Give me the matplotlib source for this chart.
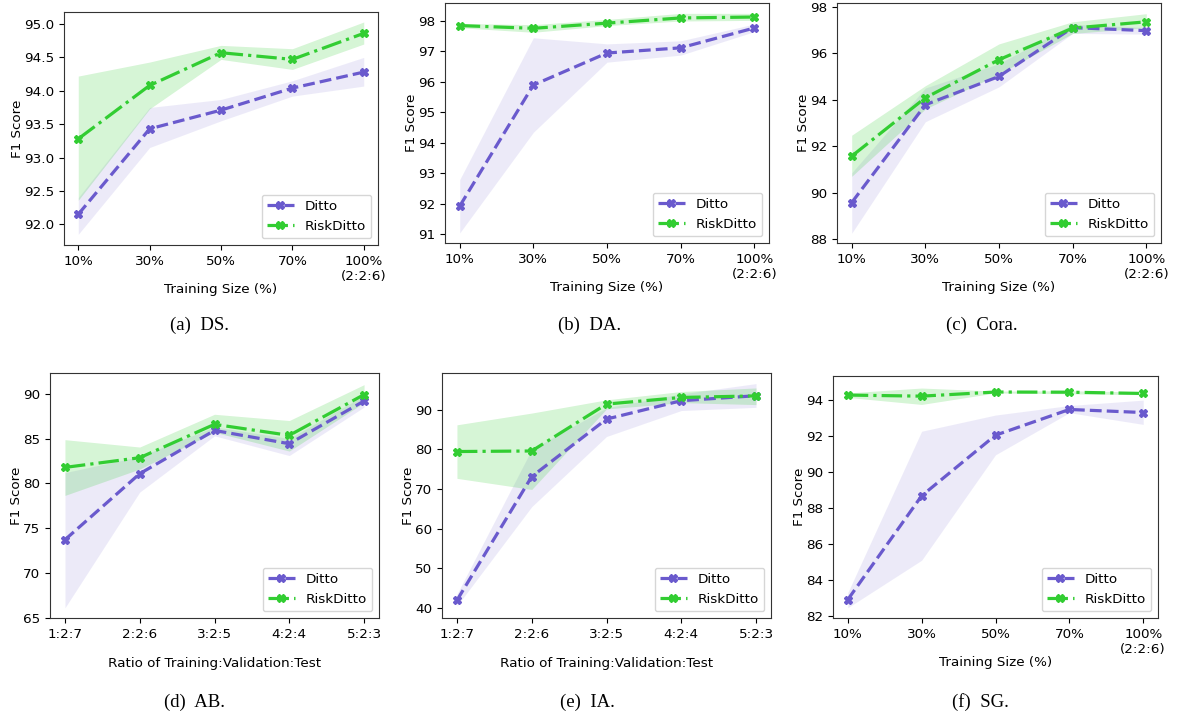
import numpy as np
from matplotlib import pyplot as plt
from matplotlib import rcParams

rcParams['font.family'] = 'DejaVu Sans'
rcParams['font.size'] = 9.7
rcParams['axes.edgecolor'] = '#333333'

W, H = 1177, 718

size_ticks = ['10%', '30%', '50%', '70%', '100%\n(2:2:6)']
ratio_ticks = ['1:2:7', '2:2:6', '3:2:5', '4:2:4', '5:2:3']

# DS
ds_ditto = [92.15, 93.43, 93.71, 94.04, 94.28]
ds_ditto_lo = [91.85, 93.15, 93.55, 93.92, 94.07]
ds_ditto_hi = [92.40, 93.75, 93.87, 94.15, 94.50]
ds_risk = [93.28, 94.08, 94.57, 94.47, 94.86]
ds_risk_lo = [92.36, 93.73, 94.47, 94.32, 94.70]
ds_risk_hi = [94.22, 94.43, 94.68, 94.63, 95.03]

# DA
da_ditto = [91.93, 95.90, 96.95, 97.12, 97.77]
da_ditto_lo = [91.05, 94.35, 96.65, 96.88, 97.65]
da_ditto_hi = [92.80, 97.45, 97.25, 97.35, 97.90]
da_risk = [97.85, 97.76, 97.93, 98.10, 98.13]
da_risk_lo = [97.78, 97.63, 97.85, 98.00, 98.02]
da_risk_hi = [97.92, 97.88, 98.05, 98.25, 98.25]

# Cora
cora_ditto = [89.57, 93.78, 95.00, 97.10, 96.97]
cora_ditto_lo = [88.25, 93.05, 94.55, 96.85, 96.82]
cora_ditto_hi = [90.85, 94.50, 95.55, 97.25, 97.10]
cora_risk = [91.57, 94.08, 95.72, 97.08, 97.35]
cora_risk_lo = [90.70, 93.60, 95.10, 96.85, 97.10]
cora_risk_hi = [92.47, 94.60, 96.40, 97.35, 97.70]

# AB
ab_ditto = [73.72, 81.08, 85.90, 84.42, 89.18]
ab_ditto_lo = [66.13, 79.03, 85.30, 83.10, 88.50]
ab_ditto_hi = [81.20, 83.00, 86.30, 85.00, 89.80]
ab_risk = [81.78, 82.86, 86.58, 85.35, 89.89]
ab_risk_lo = [78.66, 81.60, 85.70, 83.60, 89.00]
ab_risk_hi = [84.87, 84.05, 87.70, 87.00, 91.00]

# IA
ia_ditto = [41.94, 73.14, 87.64, 92.28, 93.54]
ia_ditto_lo = [40.50, 65.55, 83.25, 89.80, 90.60]
ia_ditto_hi = [43.50, 80.00, 90.50, 94.00, 96.60]
ia_risk = [79.46, 79.60, 91.43, 93.10, 93.50]
ia_risk_lo = [72.70, 69.90, 90.20, 91.80, 91.30]
ia_risk_hi = [86.20, 89.16, 92.50, 94.60, 95.50]

# SG
sg_ditto = [82.91, 88.68, 92.05, 93.48, 93.31]
sg_ditto_lo = [82.46, 85.10, 90.96, 93.30, 92.65]
sg_ditto_hi = [83.30, 92.27, 93.17, 93.70, 94.00]
sg_risk = [94.28, 94.22, 94.45, 94.44, 94.37]
sg_risk_lo = [94.15, 93.76, 94.40, 94.35, 94.30]
sg_risk_hi = [94.40, 94.67, 94.50, 94.52, 94.45]

c_ditto = '#6a5acd'
c_risk = '#32cd32'

panels = [
    # box in px (left, right, top, bottom), data, ticks, xlabel, yticks, ylim, fmt, caption, caption pos
    ((64, 378, 12, 245), (ds_ditto, ds_ditto_lo, ds_ditto_hi, ds_risk, ds_risk_lo, ds_risk_hi),
     size_ticks, 'Training Size (%)', np.arange(92.0, 95.01, 0.5), (91.69, 95.18), '{:.1f}', '(a)  DS.', (199, 325)),
    ((445, 769, 3, 243), (da_ditto, da_ditto_lo, da_ditto_hi, da_risk, da_risk_lo, da_risk_hi),
     size_ticks, 'Training Size (%)', np.arange(91, 98.1, 1), (90.72, 98.59), '{:.0f}', '(b)  DA.', (590, 325)),
    ((837, 1161, 3, 243), (cora_ditto, cora_ditto_lo, cora_ditto_hi, cora_risk, cora_risk_lo, cora_risk_hi),
     size_ticks, 'Training Size (%)', np.arange(88, 98.1, 2), (87.83, 98.16), '{:.0f}', '(c)  Cora.', (982, 325)),
    ((50, 379, 373, 618), (ab_ditto, ab_ditto_lo, ab_ditto_hi, ab_risk, ab_risk_lo, ab_risk_hi),
     ratio_ticks, 'Ratio of Training:Validation:Test', np.arange(65, 90.1, 5), (65, 92.3), '{:.0f}', '(d)  AB.', (195, 702)),
    ((442, 771, 373, 618), (ia_ditto, ia_ditto_lo, ia_ditto_hi, ia_risk, ia_risk_lo, ia_risk_hi),
     ratio_ticks, 'Ratio of Training:Validation:Test', np.arange(40, 90.1, 10), (37.47, 99.27), '{:.0f}', '(e)  IA.', (587, 702)),
    ((833, 1158, 376, 618), (sg_ditto, sg_ditto_lo, sg_ditto_hi, sg_risk, sg_risk_lo, sg_risk_hi),
     size_ticks, 'Training Size (%)', np.arange(82, 94.1, 2), (81.89, 95.34), '{:.0f}', '(f)  SG.', (980, 702)),
]

fig = plt.figure(figsize=(W / 100, H / 100), dpi=100)

for box, series, xticks, xlabel, yticks, ylim, fmt, caption, cpos in panels:
    l, r, t, b = box
    ax = fig.add_axes([l / W, 1 - b / H, (r - l) / W, (b - t) / H])
    d, dlo, dhi, rk, rlo, rhi = series
    x = np.arange(len(xticks))
    ax.fill_between(x, dlo, dhi, color=c_ditto, alpha=0.12, linewidth=0)
    ax.fill_between(x, rlo, rhi, color=c_risk, alpha=0.2, linewidth=0)
    ax.plot(x, d, '--', color=c_ditto, lw=2.3, marker='X', ms=6, label='Ditto')
    ax.plot(x, rk, '-.', color=c_risk, lw=2.3, marker='X', ms=6, label='RiskDitto')
    ax.set_xticks(x)
    ax.set_xticklabels(xticks)
    ax.set_yticks(yticks)
    ax.set_yticklabels([fmt.format(v) for v in yticks])
    ax.set_ylim(*ylim)
    ax.set_ylabel('F1 Score', labelpad=0)
    if xticks is ratio_ticks:
        ax.set_xlabel(xlabel, labelpad=12)
    else:
        ax.set_xlabel(xlabel, labelpad=0)
    ax.legend(loc='lower right', fontsize=9.7)
    fig.text(cpos[0] / W, 1 - cpos[1] / H, caption, ha='center', va='center',
             family='Liberation Serif', fontsize=13.5)

fig.savefig('out.png', dpi=100)
